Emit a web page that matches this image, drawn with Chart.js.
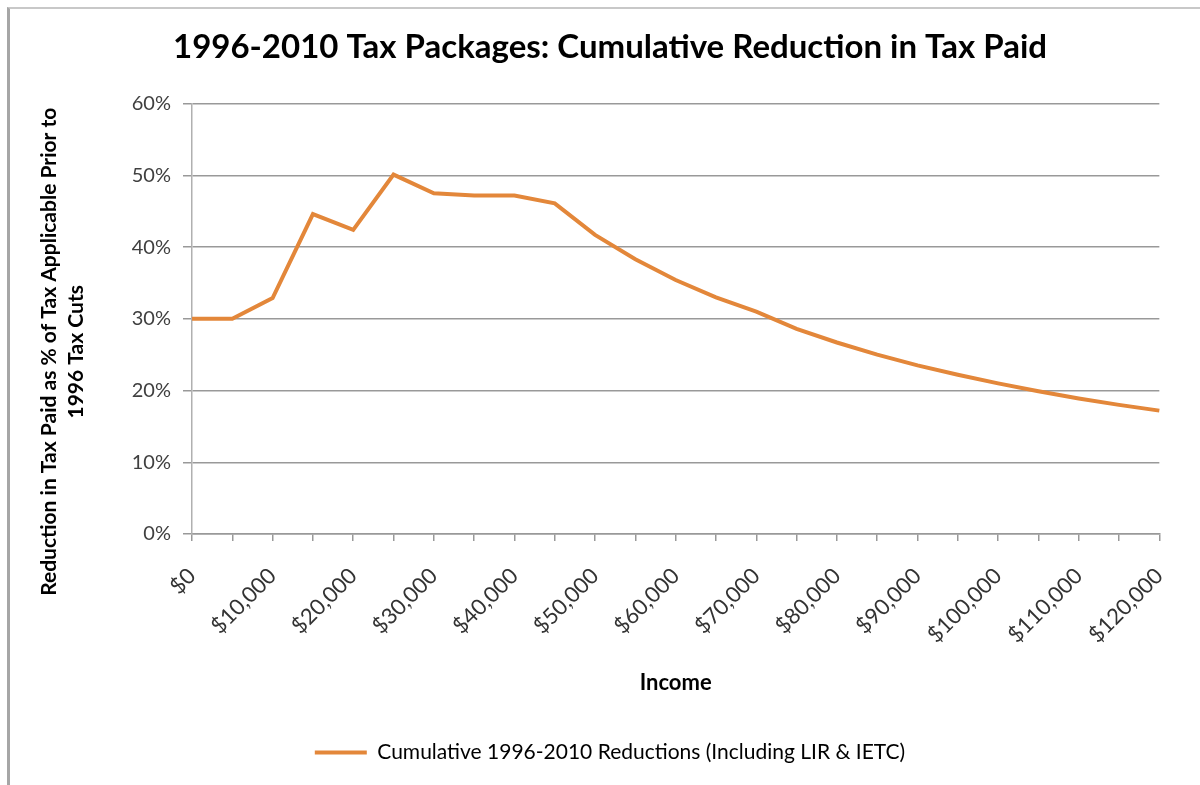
<!DOCTYPE html>
<html>
<head>
<meta charset="utf-8">
<script src="https://cdn.jsdelivr.net/npm/chart.js@4.4.1/dist/chart.umd.min.js"></script>
<style>
  body { margin: 0; background: #fff; }
  #frame { position: absolute; left: 7px; top: 7px; width: 1193px; height: 778px;
           border-left: 3px solid #a6a6a6; border-top: 2px solid #c8c8c8; }
  #wrap { position: absolute; left: 0; top: 0; width: 1200px; height: 785px; }
</style>
</head>
<body>
<div id="frame"></div>
<div id="wrap"><canvas id="myChart" width="1200" height="785"></canvas></div>
<script>
const incomeLabels = [
  "$0", "$5,000", "$10,000", "$15,000", "$20,000", "$25,000", "$30,000", "$35,000", "$40,000",
  "$45,000", "$50,000", "$55,000", "$60,000", "$65,000", "$70,000", "$75,000", "$80,000",
  "$85,000", "$90,000", "$95,000", "$100,000", "$105,000", "$110,000", "$115,000", "$120,000"
];
// reduction in tax paid, percent
const cumulativeReduction = [
  30.0, 30.0, 32.9, 44.6, 42.4, 50.1, 47.5, 47.2, 47.2,
  46.1, 41.7, 38.3, 35.4, 33.0, 31.0, 28.6, 26.7,
  25.0, 23.5, 22.2, 21.0, 19.9, 18.9, 18.0, 17.2
];
const yTicks = [0, 10, 20, 30, 40, 50, 60];
const yTitleLines = ["Reduction in Tax Paid as % of Tax Applicable Prior to", "1996 Tax Cuts"];

const fontFam = "Lato, 'Open Sans', sans-serif";
Chart.defaults.font.family = fontFam;
Chart.defaults.color = "#404040";

// y axis title drawn by hand so it can sit a bit below the plot centre like the original
const yTitlePlugin = {
  id: "yTitle",
  afterDraw(chart) {
    const c = chart.ctx;
    const area = chart.chartArea;
    c.save();
    c.font = "bold 21px " + fontFam;
    c.fillStyle = "#000";
    c.textAlign = "center";
    c.textBaseline = "middle";
    c.translate(49, (area.top + area.bottom) / 2 + 33);
    c.rotate(-Math.PI / 2);
    yTitleLines.forEach((t, i) => c.fillText(t, 0, i * 27));
    c.restore();
  }
};

const ctx = document.getElementById("myChart").getContext("2d");
const myChart = new Chart(ctx, {
  type: "line",
  data: {
    labels: incomeLabels,
    datasets: [{
      label: "Cumulative 1996-2010 Reductions (Including LIR & IETC)",
      data: cumulativeReduction,
      borderColor: "#e3873a",
      backgroundColor: "#e3873a",
      borderWidth: 4,
      pointRadius: 0,
      tension: 0
    }]
  },
  plugins: [yTitlePlugin],
  options: {
    responsive: false,
    animation: false,
    layout: { padding: { left: 60, right: 40, top: 18, bottom: 12 } },
    plugins: {
      title: {
        display: true,
        text: "1996-2010 Tax Packages: Cumulative Reduction in Tax Paid",
        color: "#000",
        font: { size: 33, weight: "bold" },
        padding: { top: 10, bottom: 36 }
      },
      legend: {
        position: "bottom",
        labels: {
          boxWidth: 52,
          boxHeight: 0,
          color: "#222",
          font: { size: 21 },
          padding: 10,
          generateLabels: (chart) => {
            const ds = chart.data.datasets[0];
            return [{ text: ds.label, strokeStyle: ds.borderColor, fillStyle: ds.borderColor,
                      lineWidth: 4, datasetIndex: 0 }];
          }
        }
      },
      tooltip: { enabled: false }
    },
    scales: {
      x: {
        offset: false,
        grid: { drawOnChartArea: false, drawTicks: true, tickLength: 7, color: "#999", lineWidth: 1.5 },
        border: { color: "#999", width: 1.5 },
        ticks: {
          autoSkip: false,
          maxRotation: 45,
          minRotation: 45,
          color: "#333",
          font: { size: 22 },
          padding: 22,
          callback: (v, i) => (i % 2 === 0 ? incomeLabels[i] : "")
        },
        title: { display: true, text: "Income", color: "#000", font: { size: 22, weight: "bold" }, padding: { top: 0, bottom: 36 } },
        afterFit: (scale) => { scale.height = 198; }
      },
      y: {
        min: 0,
        max: 60,
        afterBuildTicks: (scale) => { scale.ticks = yTicks.map(v => ({ value: v })); },
        grid: { color: "#999", lineWidth: 1.5, tickLength: 9 },
        border: { color: "#b0b0b0", width: 1.5 },
        ticks: { color: "#404040", font: { size: 20 }, padding: 12, callback: v => v + "%" },
        afterFit: (scale) => { scale.width = 132; }
      }
    }
  }
});
</script>
</body>
</html>
